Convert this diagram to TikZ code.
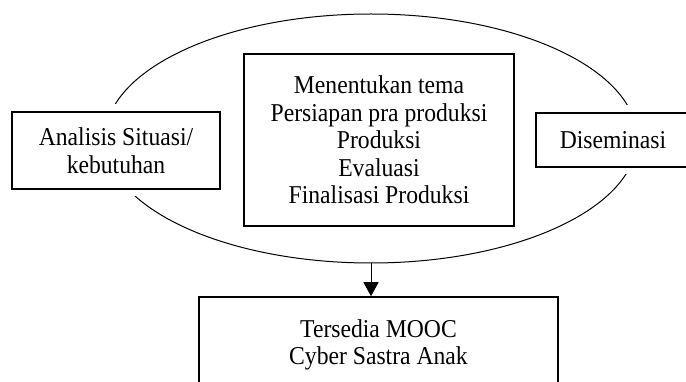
\documentclass[tikz,border=0pt]{standalone}
\usepackage{fontspec}
\setmainfont{Liberation Serif}[FakeStretch=0.92]
\usetikzlibrary{shapes.geometric,arrows.meta}
\begin{document}
\begin{tikzpicture}[x=1pt,y=-1pt,
 box/.style={draw,fill=white,line width=1.5pt,align=center,inner sep=0pt,font=\fontsize{25.7}{27.5}\selectfont},
 sidebox/.style={box,preaction={draw=white,line width=15pt}}]
 \useasboundingbox (0,0) rectangle (686,382);
 \clip (0,0) rectangle (686,382);
 % siklus pengembangan
 \node[ellipse,draw,line width=1pt,minimum width=532pt,minimum height=249pt,inner sep=0pt] (siklus) at (371,138.5) {};
 \node[sidebox,minimum width=208pt,minimum height=77pt] (analisis) at (116,150.5) {Analisis Situasi/\\kebutuhan};
 \node[box,minimum width=270pt,minimum height=172pt] (produksi) at (379,140) {Menentukan tema\\Persiapan pra produksi\\Produksi\\Evaluasi\\Finalisasi Produksi};
 \node[sidebox,minimum width=154pt,minimum height=54pt] (diseminasi) at (613,140) {Diseminasi};
 % hasil
 \node[box,minimum width=359pt,minimum height=96pt] (hasil) at (378.5,345) {Tersedia MOOC\\Cyber Sastra Anak};
 \draw[-{Triangle[width=15pt,length=14pt]},line width=1pt] (siklus.south) -- (siklus.south |- hasil.north);
\end{tikzpicture}
\end{document}
